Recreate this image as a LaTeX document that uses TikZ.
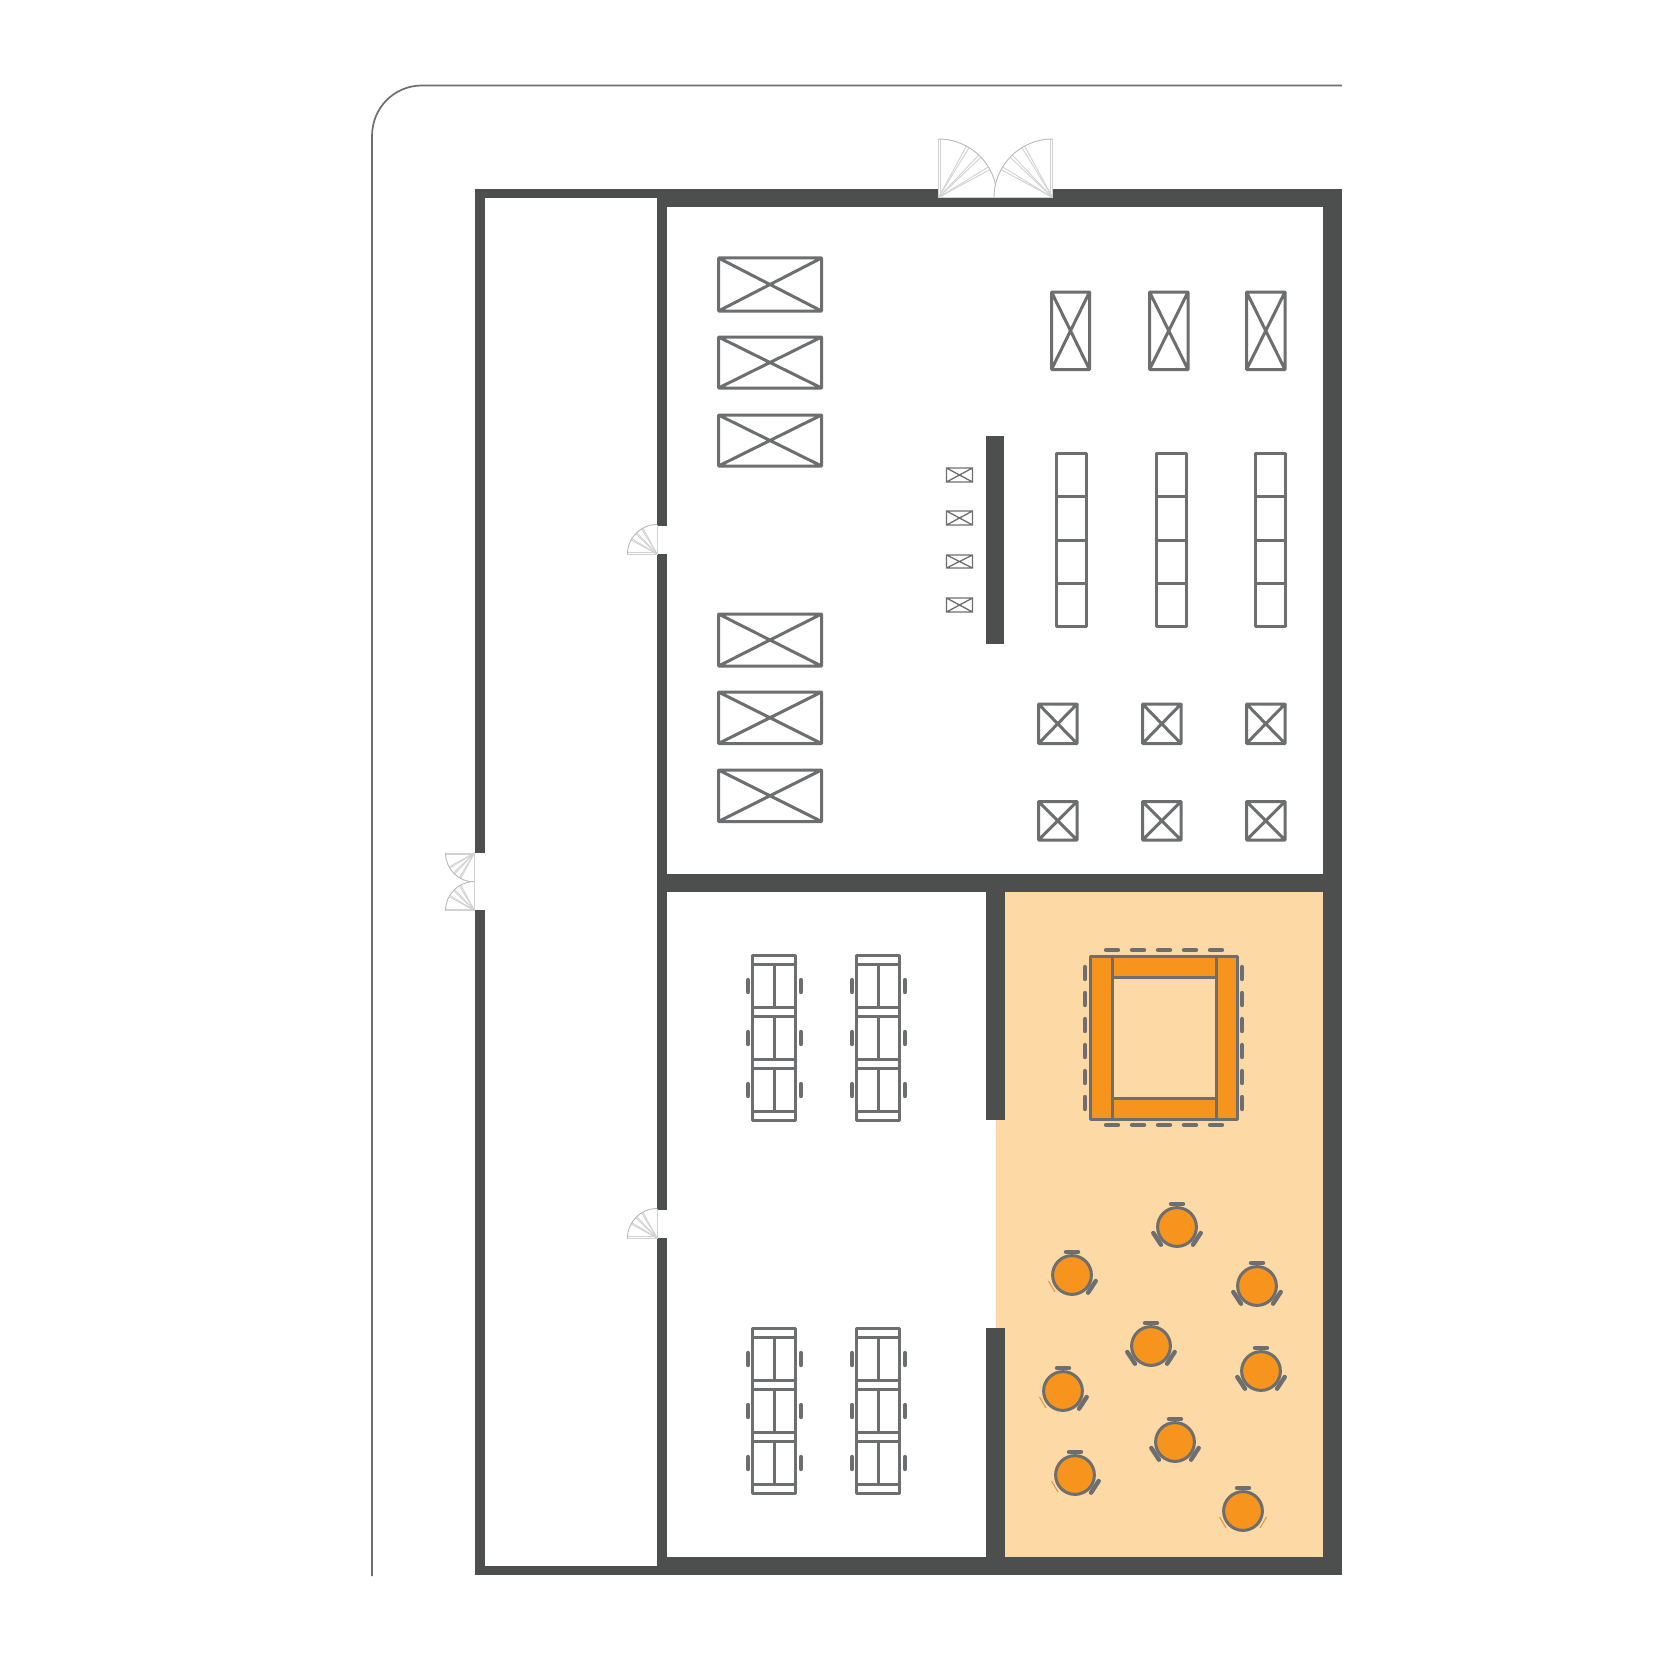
\documentclass[tikz,border=0pt]{standalone}
\definecolor{wallc}{HTML}{4D4E4E}
\definecolor{linec}{HTML}{6D6E70}
\definecolor{floorc}{HTML}{FDD9A5}
\definecolor{tablec}{HTML}{F7941E}
\definecolor{doorc}{HTML}{D2D2D2}
\definecolor{thinc}{HTML}{DB9C52}
\tikzset{
  wall/.style={fill=wallc,draw=none},
  void/.style={fill=white,draw=none},
  furn/.style={draw=linec,line width=3pt,line join=round},
  furnfine/.style={draw=linec,line width=1.3pt},
  seat/.style={draw=linec,line width=4.4pt,line cap=round},
  thinseat/.style={draw=thinc,line width=1.1pt},
  doorline/.style={draw=doorc,line width=0.9pt},
}
\newcommand{\xbox}[5][furn]{\draw[#1] (#2,#3) rectangle (#4,#5) (#2,#3) -- (#4,#5) (#2,#5) -- (#4,#3);}
% door: local leaf goes to (0,-r), closed end at (r,0)
\newcommand{\doorleaf}[2]{%
  \begin{scope}[#1]
    \def\R{#2}
    \fill[white] (0,0) -- (\R,0) .. controls (\R,-0.5523*\R) and (0.5523*\R,-\R) .. (0,-\R) -- cycle;
    \draw[doorline] (\R,0) -- (0,0) -- (0,-\R) -- ({0.04*\R},-\R) -- ({0.04*\R},0);
    \foreach \a in {28.5,31.5,43.5,46.5,58.5,61.5}
      \draw[doorline] (0,0) -- ({\R*cos(\a)},{-\R*sin(\a)});
    \draw[draw=doorc!88!black,line width=0.9pt] (\R,0) .. controls (\R,-0.5523*\R) and (0.5523*\R,-\R) .. (0,-\R);
  \end{scope}}
\newcommand{\desk}[2]{%
  \begin{scope}[shift={(#1,#2)}]
    \draw[furn] (0,0) rectangle (43,164.5);
    \foreach \y in {9,52,61,104,113,156} \draw[furn] (0,\y) -- (43,\y);
    \foreach \p/\q in {9/52,61/104,113/156} {
      \draw[furn] (21.5,\p) -- (21.5,\q);
      \draw[seat] (-4.5,{(\p+\q)/2-6}) -- (-4.5,{(\p+\q)/2+6});
      \draw[seat] (48.5,{(\p+\q)/2-6}) -- (48.5,{(\p+\q)/2+6});
    }
  \end{scope}}
\newcommand{\rseatL}{\draw[seat] (-23.7,6) -- (-16,17.7);}
\newcommand{\rseatR}{\draw[seat] (23.7,6) -- (16,17.7);}
\newcommand{\tseatL}{\draw[thinseat] (-23.5,6) -- (-17,17);}
\newcommand{\tseatR}{\draw[thinseat] (23.5,6) -- (17,17);}
\newcommand{\rtable}[4]{%
  \begin{scope}[shift={(#1,#2)}]
    \filldraw[fill=tablec,draw=linec,line width=3pt] (0,0) circle[radius=19.4];
    \draw[seat] (-6,-23) -- (6,-23);
    #3 #4
  \end{scope}}
\begin{document}
\begin{tikzpicture}[x=1pt,y=-1pt]
\useasboundingbox (0,0) rectangle (1680,1680);
\fill[white] (0,0) rectangle (1680,1680);
% site outline
\draw[linec,line width=1.7pt] (1342,85.5) -- (422,85.5) .. controls (394,85.5) and (372,108) .. (372,136) -- (372,1576);
% walls
\fill[wall] (475,189) rectangle (1342,1575);
\fill[void] (485,198.5) rectangle (657,1566);
\fill[void] (667,207) rectangle (1323,873.5);
\fill[void] (667,891.5) rectangle (986,1557);
\fill[void] (986,1120) rectangle (1004.5,1328);
\fill[floorc] (1004.5,891.5) rectangle (1323,1557);
\fill[floorc] (996,1120) rectangle (1005,1328);
% door gaps
\fill[void] (474,853) rectangle (486,910);
\fill[void] (656,526) rectangle (668,554);
\fill[void] (656,1210) rectangle (668,1238);
\fill[void] (938,188) rectangle (1052,197);
% free standing partition
\fill[wall] (986,436) rectangle (1004,644);
% doors
\doorleaf{shift={(938.5,197.5)}}{58.5}
\doorleaf{shift={(1052.5,197.5)},xscale=-1}{58.5}
\doorleaf{shift={(474.5,853)},rotate=90,xscale=-1}{29}
\doorleaf{shift={(474.5,910.5)},rotate=90}{29}
\doorleaf{shift={(657,554)},rotate=90}{29.5}
\doorleaf{shift={(657,1238)},rotate=90}{29.5}
% crates, left
\foreach \a/\b in {258/311,337/388,415/466,614/666,692/743.5,770/821.5} {\xbox{718.5}{\a}{821.5}{\b}}
% tall crates
\foreach \a/\b in {1051.5/1089.5,1149.5/1188,1246.5/1285} {\xbox{\a}{292}{\b}{369.5}}
% square crates
\foreach \a/\b in {1038.5/1077,1142.5/1181,1246.5/1285} {
  \xbox{\a}{704}{\b}{743.5}
  \xbox{\a}{801.5}{\b}{840}
}
% small crates
\foreach \a/\b in {468/482,511/525,555/568,598/612} {\xbox[furnfine]{946.5}{\a}{972.5}{\b}}
% shelves
\foreach \a/\b in {1056/1086,1156/1186,1255.5/1285} {
  \draw[furn] (\a,453.5) rectangle (\b,626);
  \foreach \y in {496.5,540,583.5} \draw[furn] (\a,\y) -- (\b,\y);
}
% desks
\desk{752.5}{955.5}\desk{856.5}{955.5}\desk{752.5}{1328.5}\desk{856.5}{1328.5}
% conference table
\fill[tablec] (1090,955) rectangle (1237.5,1120);
\fill[floorc] (1112,977) rectangle (1216,1098);
\draw[furn] (1090.5,956) rectangle (1237,1119.5);
\draw[furn] (1112,956) -- (1112,1119.5) (1216,956) -- (1216,1119.5) (1112,977) -- (1216,977) (1112,1098) -- (1216,1098);
\foreach \x in {1112,1138,1164,1190,1216} {
  \draw[seat] (\x-6,950) -- (\x+6,950);
  \draw[seat] (\x-6,1125) -- (\x+6,1125);
}
\foreach \y in {973,999,1025,1051,1077,1103} {
  \draw[seat] (1085,\y-6) -- (1085,\y+6);
  \draw[seat] (1242,\y-6) -- (1242,\y+6);
}
% round tables
\rtable{1177}{1227}{\rseatL}{\rseatR}
\rtable{1072}{1275}{\tseatL}{\rseatR}
\rtable{1257}{1286}{\rseatL}{\rseatR}
\rtable{1151}{1346}{\rseatL}{\rseatR}
\rtable{1261}{1371}{\rseatL}{\rseatR}
\rtable{1063}{1391}{\tseatL}{\rseatR}
\rtable{1175}{1442}{\rseatL}{\rseatR}
\rtable{1075}{1475}{\tseatL}{\rseatR}
\rtable{1243}{1511}{\tseatL}{\tseatR}
\end{tikzpicture}
\end{document}
